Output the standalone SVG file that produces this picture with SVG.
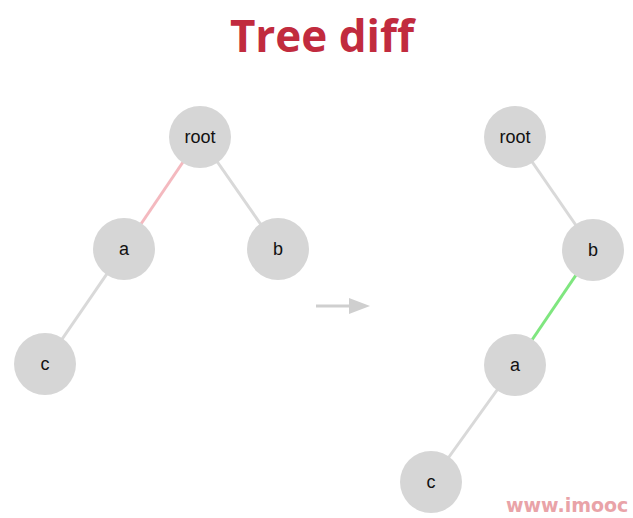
<svg xmlns="http://www.w3.org/2000/svg" width="633" height="518" viewBox="0 0 633 518">
<style>
.node circle{fill:#d6d6d6}
.node text{font-family:"Liberation Sans",Arial,sans-serif;font-size:18px;fill:#111;text-anchor:middle}
.edge{stroke:#d9d9d9;stroke-width:3;fill:none}
.title{font-family:"Open Sans","Noto Sans",sans-serif;font-weight:bold;font-size:44px;fill:#c12b3e;text-anchor:middle}
</style>
<defs>
<marker id="ah" markerWidth="22" markerHeight="16" refX="0" refY="8" orient="auto" markerUnits="userSpaceOnUse">
<path d="M0,0 L21,8 L0,16 Z" fill="#cfcfcf"/>
</marker>
</defs>
<rect width="633" height="518" fill="#fff"/>
<text class="title" x="322" y="52">Tree diff</text>
<g id="connectors">
<line class="edge" x1="200" y1="137" x2="124" y2="249" style="stroke:#f4b9bf"/>
<line class="edge" x1="200" y1="137" x2="278" y2="249"/>
<line class="edge" x1="124" y1="249" x2="45" y2="364"/>
<line class="edge" x1="515" y1="137" x2="593" y2="250"/>
<line class="edge" x1="593" y1="250" x2="515" y2="365" style="stroke:#7fe67f"/>
<line class="edge" x1="515" y1="365" x2="431" y2="482"/>
<line x1="316" y1="306" x2="349" y2="306" stroke="#cfcfcf" stroke-width="3" marker-end="url(#ah)"/>
</g>
<g id="L-root" class="node"><circle cx="200" cy="137" r="31"/><text x="200" y="143">root</text></g>
<g id="L-a" class="node"><circle cx="124" cy="249" r="31"/><text x="124" y="255">a</text></g>
<g id="L-b" class="node"><circle cx="278" cy="249" r="31"/><text x="278" y="255">b</text></g>
<g id="L-c" class="node"><circle cx="45" cy="364" r="31"/><text x="45" y="370">c</text></g>
<g id="R-root" class="node"><circle cx="515" cy="137" r="31"/><text x="515" y="143">root</text></g>
<g id="R-b" class="node"><circle cx="593" cy="250" r="31"/><text x="593" y="256">b</text></g>
<g id="R-a" class="node"><circle cx="515" cy="365" r="31"/><text x="515" y="371">a</text></g>
<g id="R-c" class="node"><circle cx="431" cy="482" r="31"/><text x="431" y="488">c</text></g>
<text x="506" y="512" font-family="Verdana,'DejaVu Sans',sans-serif" font-weight="bold" font-size="19" fill="#e9a3a8">www.imooc</text>
</svg>
